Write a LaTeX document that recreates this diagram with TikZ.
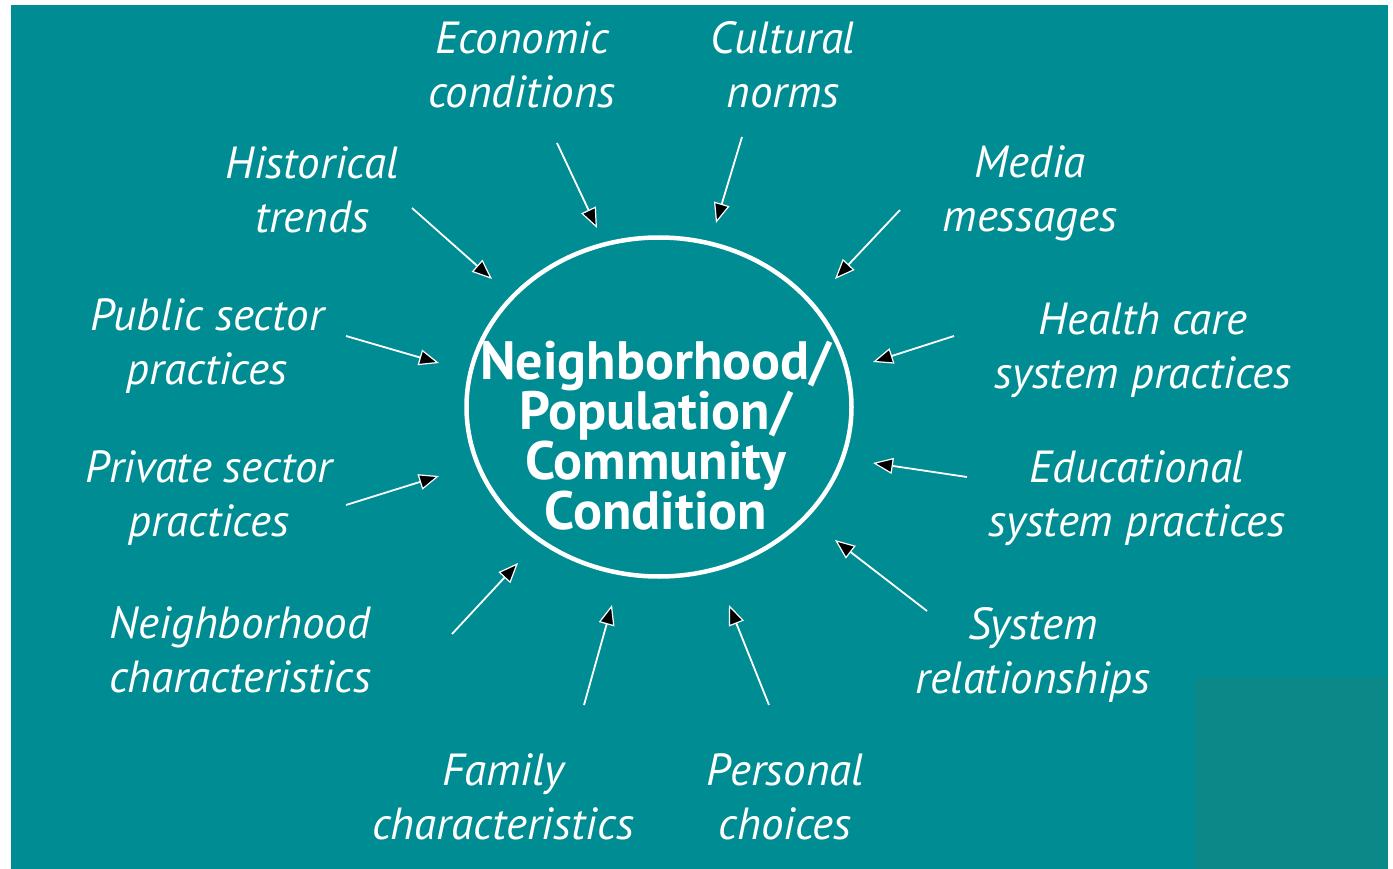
\documentclass[tikz,border=0pt]{standalone}
\usepackage{fontspec}
\setmainfont{PT Sans}
\usetikzlibrary{shapes.geometric, arrows.meta}
\definecolor{bgteal}{HTML}{008C93}
\definecolor{patchteal}{HTML}{0D8888}
\tikzstyle{factor} = [text=white, 
align=center, 
inner sep=0pt, 
font=\itshape\fontsize{45}{54}\selectfont]
\tikzstyle{core} = [ellipse, 
draw=white, 
line width=4.5pt, 
minimum width=385pt, 
minimum height=339pt]
\tikzstyle{coretext} = [text=white, 
align=center, 
inner sep=0pt, 
font=\bfseries\fontsize{54}{50}\selectfont]
\tikzstyle{arrow} = [draw=white, 
line width=1.8pt, 
-{Triangle[length=20pt, width=16pt, fill=black, line width=1.2pt]}]
\begin{document}
\begin{tikzpicture}[x=1pt, y=-1pt]
			
			\useasboundingbox (0,0) rectangle (1393,869);
			\fill [white] (0,0) rectangle (1393,869);
			\fill [bgteal] (11,5) rectangle (1388,869);
			\fill [patchteal] (1195,677) rectangle (1388,869);
			
			\node (cond) [core] at (659,407) {};
			\node (condtext) [coretext] at (656,436) {Neighborhood/\\Population/\\Community\\Condition};
			
			\node (econ) [factor] at (522,65) {Economic\\conditions};
			\node (cult) [factor] at (783,65) {Cultural\\norms};
			\node (hist) [factor] at (312,190) {Historical\\trends};
			\node (media) [factor] at (1030,193) {Media\\messages};
			\node (pub) [factor] at (207,346) {Public sector\\practices};
			\node (health) [factor] at (1143,350) {Health care\\system practices};
			\node (priv) [factor] at (209,498) {Private sector\\practices};
			\node (edu) [factor] at (1137,498) {Educational\\system practices};
			\node (neigh) [factor] at (240,650) {Neighborhood\\characteristics};
			\node (sys) [factor] at (1033,655) {System\\relationships};
			\node (fam) [factor] at (503,797) {Family\\characteristics};
			\node (pers) [factor] at (785,797) {Personal\\choices};
			
			\coordinate (econ-tail) at (557,143);
			\coordinate (econ-head) at (597,228);
			\coordinate (cult-tail) at (742,137);
			\coordinate (cult-head) at (716,223);
			\coordinate (hist-tail) at (412,208);
			\coordinate (hist-head) at (492,279);
			\coordinate (media-tail) at (900,210);
			\coordinate (media-head) at (835,279);
			\coordinate (pub-tail) at (346,336);
			\coordinate (pub-head) at (439,363);
			\coordinate (health-tail) at (954,336);
			\coordinate (health-head) at (873,362);
			\coordinate (priv-tail) at (346,505);
			\coordinate (priv-head) at (439,476);
			\coordinate (edu-tail) at (967,477);
			\coordinate (edu-head) at (873,463);
			\coordinate (neigh-tail) at (452,634);
			\coordinate (neigh-head) at (518,563);
			\coordinate (sys-tail) at (927,611);
			\coordinate (sys-head) at (835,540);
			\coordinate (fam-tail) at (584,705);
			\coordinate (fam-head) at (612,605);
			\coordinate (pers-tail) at (769,705);
			\coordinate (pers-head) at (729,605);
			
			\draw [arrow] (econ-tail) -- (econ-head);
			\draw [arrow] (cult-tail) -- (cult-head);
			\draw [arrow] (hist-tail) -- (hist-head);
			\draw [arrow] (media-tail) -- (media-head);
			\draw [arrow] (pub-tail) -- (pub-head);
			\draw [arrow] (health-tail) -- (health-head);
			\draw [arrow] (priv-tail) -- (priv-head);
			\draw [arrow] (edu-tail) -- (edu-head);
			\draw [arrow] (neigh-tail) -- (neigh-head);
			\draw [arrow] (sys-tail) -- (sys-head);
			\draw [arrow] (fam-tail) -- (fam-head);
			\draw [arrow] (pers-tail) -- (pers-head);
			
			\end{tikzpicture}
\end{document}
